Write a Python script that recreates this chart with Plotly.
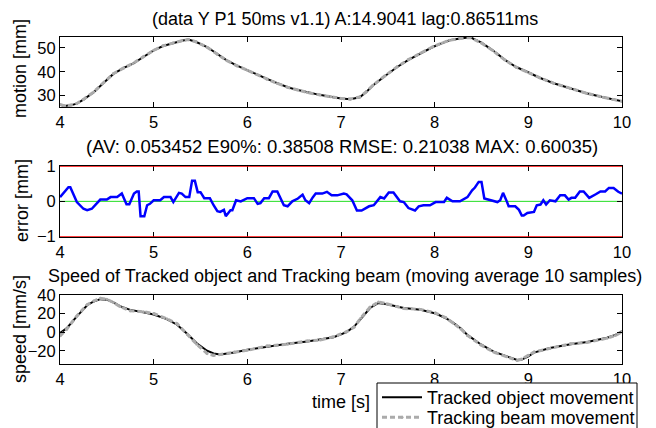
import plotly.graph_objects as go
from plotly.subplots import make_subplots

# ---------------- data ----------------
t_mot = [4.00, 4.05, 4.12, 4.18, 4.25, 4.36, 4.47, 4.57, 4.68, 4.78, 4.89, 5.00, 5.10, 5.21, 5.30,
         5.37, 5.45, 5.57, 5.68, 5.78, 5.89, 6.00, 6.10, 6.21, 6.32, 6.43, 6.54, 6.64, 6.77, 6.89,
         7.00, 7.10, 7.20, 7.27, 7.34, 7.47, 7.60, 7.72, 7.85, 7.98, 8.08, 8.16, 8.27, 8.38, 8.50,
         8.62, 8.75, 8.87, 8.98, 9.12, 9.27, 9.45, 9.62, 9.80, 9.90, 10.00]
mot_obj = [26.2, 25.6, 26.0, 26.6, 28.3, 31.4, 35.5, 39.1, 41.6, 43.4, 46.2, 49.0, 50.8, 52.1, 53.0,
           53.5, 52.6, 50.4, 47.5, 44.8, 42.6, 40.6, 38.8, 37.0, 35.2, 33.5, 32.3, 31.4, 30.3, 29.5,
           28.8, 28.5, 29.3, 31.5, 34.2, 38.2, 42.0, 45.0, 47.8, 50.4, 52.0, 53.2, 54.0, 54.5, 52.2,
           49.0, 45.0, 42.0, 40.1, 37.5, 35.2, 33.0, 31.0, 29.3, 28.3, 27.6]
mot_beam = [26.3, 25.7, 26.0, 26.7, 28.4, 31.5, 35.6, 39.2, 41.6, 43.5, 46.3, 49.0, 50.9, 52.2, 53.0,
            53.5, 52.6, 50.3, 47.4, 44.7, 42.5, 40.6, 38.8, 36.9, 35.1, 33.5, 32.3, 31.3, 30.3, 29.5,
            28.8, 28.6, 29.4, 31.6, 34.3, 38.3, 42.1, 45.1, 47.9, 50.5, 52.1, 53.2, 54.0, 54.4, 52.1,
            48.9, 44.9, 41.9, 40.0, 37.5, 35.2, 33.0, 31.0, 29.3, 28.3, 27.6]

t_err = [4.00, 4.05, 4.09, 4.11, 4.14, 4.18, 4.25, 4.29, 4.34, 4.39, 4.43, 4.50, 4.54, 4.61, 4.66,
         4.71, 4.74, 4.79, 4.82, 4.84, 4.86, 4.90, 4.93, 4.96, 5.00, 5.07, 5.11, 5.18, 5.21, 5.27,
         5.30, 5.34, 5.38, 5.41, 5.44, 5.47, 5.50, 5.54, 5.60, 5.64, 5.68, 5.71, 5.75, 5.77, 5.80,
         5.82, 5.84, 5.88, 5.93, 6.00, 6.07, 6.11, 6.14, 6.18, 6.23, 6.27, 6.32, 6.39, 6.43, 6.48,
         6.54, 6.59, 6.62, 6.66, 6.70, 6.73, 6.80, 6.85, 6.90, 6.96, 7.03, 7.06, 7.12, 7.17, 7.22,
         7.30, 7.35, 7.42, 7.46, 7.51, 7.56, 7.63, 7.67, 7.72, 7.79, 7.83, 7.88, 7.95, 8.01, 8.10,
         8.13, 8.19, 8.27, 8.35, 8.40, 8.43, 8.47, 8.50, 8.53, 8.59, 8.67, 8.70, 8.73, 8.77, 8.79,
         8.86, 8.90, 8.93, 8.95, 8.99, 9.06, 9.09, 9.13, 9.16, 9.19, 9.23, 9.29, 9.34, 9.39, 9.43,
         9.46, 9.50, 9.55, 9.59, 9.65, 9.72, 9.77, 9.82, 9.86, 9.91, 9.96, 10.00]
err = [0.12, 0.26, 0.40, 0.40, 0.22, -0.02, -0.21, -0.25, -0.21, -0.07, 0.05, 0.05, 0.12, 0.12, 0.22,
       -0.08, -0.08, 0.22, 0.28, 0.28, -0.42, -0.42, -0.11, -0.07, 0.03, 0.03, 0.12, 0.12, -0.02, 0.24,
       0.22, 0.12, 0.12, 0.58, 0.58, 0.26, 0.26, 0.09, 0.09, -0.11, -0.28, -0.30, -0.24, -0.42, -0.30,
       -0.25, -0.25, 0.03, 0.00, 0.09, 0.09, -0.07, -0.05, 0.09, 0.09, 0.28, 0.28, -0.11, -0.14, 0.00,
       0.08, 0.19, 0.03, -0.05, 0.12, 0.22, 0.22, 0.27, 0.17, 0.17, 0.22, 0.20, 0.03, -0.26, -0.26,
       -0.14, -0.11, 0.12, 0.08, 0.25, 0.25, 0.00, -0.02, -0.19, -0.26, -0.14, -0.11, -0.11, -0.02, -0.02,
       0.10, 0.00, 0.00, 0.12, 0.31, 0.39, 0.55, 0.55, 0.08, 0.03, -0.02, 0.03, 0.24, 0.00, -0.14,
       -0.14, -0.24, -0.40, -0.40, -0.33, -0.30, -0.11, -0.09, 0.03, -0.09, 0.03, 0.00, 0.17, 0.17, 0.05,
       0.10, 0.10, 0.28, 0.28, 0.10, 0.20, 0.28, 0.28, 0.38, 0.38, 0.27, 0.22]
err_limits = [-1, 1]
err_zero = 0

t_spd = [4.00, 4.07, 4.18, 4.29, 4.36, 4.43, 4.50, 4.57, 4.64, 4.75, 4.89, 5.00, 5.14, 5.25, 5.36,
         5.46, 5.57, 5.64, 5.71, 5.86, 6.00, 6.21, 6.43, 6.64, 6.78, 6.92, 7.06, 7.14, 7.21, 7.31,
         7.40, 7.49, 7.67, 7.85, 8.01, 8.12, 8.20, 8.28, 8.35, 8.49, 8.63, 8.77, 8.88, 8.93, 9.00,
         9.06, 9.23, 9.45, 9.63, 9.84, 9.93, 10.00]
spd_obj = [-1, 4, 17, 29, 33, 35.5, 35, 32, 28, 24, 21.5, 19, 14, 8, -2,
           -12, -20, -23, -24, -22, -19, -15.5, -12.5, -10, -8, -5.5, 0, 6, 14, 26,
           31.5, 30, 26, 24, 20, 15, 10, 4, -3, -13, -21, -26, -30, -29.5, -26,
           -22, -17, -13, -10.5, -6, -3, 1]
spd_beam = [-4, 3, 17.5, 29.5, 33.5, 36.5, 35.5, 32, 27.5, 23, 22, 20, 14.5, 9, -2.5,
            -13, -23, -25, -24, -21.5, -19.5, -15, -13, -9.5, -8.5, -5, 0.5, 5.5, 15, 27,
            32.5, 30.5, 25.5, 24.5, 20.5, 15.5, 9.5, 3.5, -3.5, -13.5, -21.5, -26.5, -30.5, -29, -25,
            -21.5, -17.5, -12.5, -11, -6.5, -3.5, 0.5]

x_ticks = [4, 5, 6, 7, 8, 9, 10]
mot_ticks = [30, 40, 50]
err_ticks = [-1, 0, 1]
spd_ticks = [-20, 0, 20, 40]

title1 = "(data Y P1 50ms v1.1) A:14.9041 lag:0.86511ms"
title2 = "(AV: 0.053452 E90%: 0.38508 RMSE: 0.21038 MAX: 0.60035)"
title3 = "Speed of Tracked object and Tracking beam (moving average 10 samples)"

# ---------------- figure ----------------
# the page body has an 8px margin; work in reference pixels and shift by OFF
OFF = 8
W, H = 656 - OFF, 428 - OFF
PL, PR = 60, 622                 # plot area left/right in reference px
FONT = "Liberation Sans, Arial, sans-serif"
GRAY = "#ababab"

def fx(rx):   # reference px -> paper x (plot-area relative)
    return (rx - PL) / (PR - PL)

def fy(ry):   # reference px -> paper y (t=b=0)
    return 1 - (ry - OFF) / H

fig = make_subplots(rows=3, cols=1)

def add_pair(t, a, b, row, show):
    fig.add_trace(go.Scatter(x=t, y=a, mode="lines", name="Tracked object movement",
                             line=dict(color="black", width=2), showlegend=show,
                             legend="legend"), row=row, col=1)
    fig.add_trace(go.Scatter(x=t, y=b, mode="lines+markers", name="Tracking beam movement",
                             line=dict(color=GRAY, width=3, dash="5px,3px"),
                             marker=dict(color=GRAY, size=3), showlegend=show,
                             legend="legend2"), row=row, col=1)

add_pair(t_mot, mot_obj, mot_beam, 1, False)
fig.add_trace(go.Scatter(x=t_err, y=err, mode="lines", line=dict(color="#0000ff", width=2.5),
                         showlegend=False), row=2, col=1)
add_pair(t_spd, spd_obj, spd_beam, 3, True)

for lim in err_limits:
    fig.add_shape(type="line", xref="x2 domain", yref="y2", x0=0, x1=1, y0=lim, y1=lim,
                  line=dict(color="red", width=1.5), layer="above")
fig.add_shape(type="line", xref="x2 domain", yref="y2", x0=0, x1=1, y0=err_zero, y1=err_zero,
              line=dict(color="#22dd22", width=1), layer="below")

# legend frame (runs off the bottom of the page, as in the reference)
fig.add_shape(type="rect", xref="paper", yref="paper", x0=fx(377), x1=fx(637),
              y0=fy(460), y1=fy(383), line=dict(color="black", width=1),
              fillcolor="white", layer="above")

def dom(top, bot):
    return [fy(bot), fy(top)]

domains = [dom(37, 107), dom(166, 236.7), dom(295, 364)]
yranges = [[25.2, 54.6], [-1, 1], [-34.3, 40]]
yticks = [mot_ticks, err_ticks, spd_ticks]

axis_common = dict(showline=True, linecolor="black", linewidth=1, mirror="ticks",
                   ticks="inside", ticklen=5, tickcolor="black", showgrid=False, zeroline=False,
                   tickfont=dict(family=FONT, size=16.5, color="black"))
for i in range(3):
    fig.update_xaxes(range=[4, 10], tickvals=x_ticks, domain=[0, 1], row=i + 1, col=1, **axis_common)
    fig.update_yaxes(range=yranges[i], tickvals=yticks[i], domain=domains[i], row=i + 1, col=1,
                     **axis_common)

def ann(text, x, y, size, angle=0):
    return dict(text=text, xref="paper", yref="paper", x=fx(x), y=fy(y),
                xanchor="center", yanchor="middle", showarrow=False, textangle=angle,
                font=dict(family=FONT, size=size, color="black"))

leg_common = dict(xref="container", yref="container", xanchor="left", yanchor="top",
                  bgcolor="rgba(0,0,0,0)", borderwidth=0,
                  font=dict(family=FONT, size=18, color="black"), itemwidth=40)

fig.update_layout(
    width=W, height=H,
    margin=dict(l=PL - OFF, r=W - (PR - OFF), t=0, b=0, autoexpand=False),
    paper_bgcolor="white", plot_bgcolor="white",
    font=dict(family=FONT, color="black"),
    annotations=[
        ann(title1, 345, 19, 18),
        ann(title2, 342, 147, 18.5),
        ann(title3, 345, 276, 18),
        ann("motion [mm]", 20, 68, 18, -90),
        ann("error [mm]", 22, 201, 18, -90),
        ann("speed [mm/s]", 20, 329, 18, -90),
        ann("time [s]", 341, 402, 18),
    ],
    legend=dict(x=(377 - OFF) / W, y=1 - (379 - OFF) / H, **leg_common),
    legend2=dict(x=(377 - OFF) / W, y=1 - (399 - OFF) / H, **leg_common),
)

fig.write_html("out.html")
